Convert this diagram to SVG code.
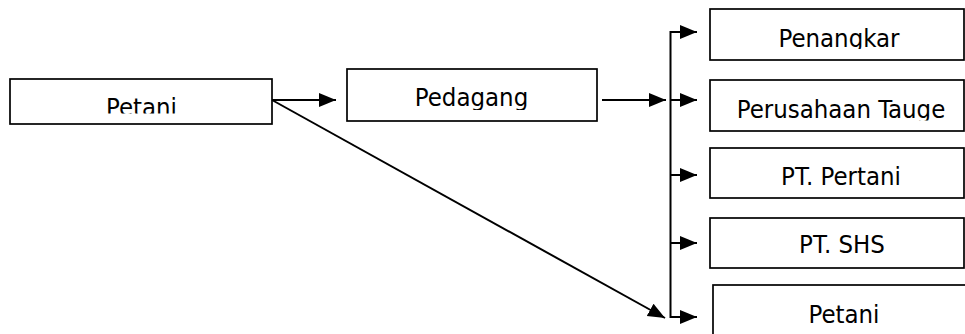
<svg xmlns="http://www.w3.org/2000/svg" width="965" height="334" viewBox="0 0 965 334">
<style>
.box{fill:#fff;stroke:#000;stroke-width:1.7}
.lbl{font-family:"DejaVu Sans Condensed","DejaVu Sans",Verdana,sans-serif;font-stretch:condensed;font-size:25.5px;fill:#000;text-anchor:middle}
.ln{fill:none;stroke:#000;stroke-width:2}
</style>
<defs>
<marker id="ah" markerUnits="userSpaceOnUse" markerWidth="18" markerHeight="16" refX="17" refY="8" orient="auto">
<path d="M0,1 L17,8 L0,15 Z" fill="#000"/>
</marker>
<clipPath id="c1"><rect x="10" y="79" width="262" height="34.5"/></clipPath>
<clipPath id="c2"><rect x="347" y="69" width="250" height="41"/></clipPath>
<clipPath id="c3"><rect x="710" y="9" width="254" height="40"/></clipPath>
<clipPath id="c4"><rect x="710" y="80" width="254" height="40.5"/></clipPath>
</defs>
<g id="petani-src">
<rect class="box" x="10" y="79" width="262" height="45"/>
<text class="lbl" x="141.5" y="115.5" clip-path="url(#c1)">Petani</text>
</g>
<g id="pedagang">
<rect class="box" x="347" y="69" width="250" height="52"/>
<text class="lbl" x="471.5" y="106" clip-path="url(#c2)">Pedagang</text>
</g>
<g id="penangkar">
<rect class="box" x="710" y="9" width="254" height="51"/>
<text class="lbl" x="839" y="47" clip-path="url(#c3)">Penangkar</text>
</g>
<g id="perusahaan">
<rect class="box" x="710" y="80" width="254" height="51"/>
<text class="lbl" x="841" y="118" clip-path="url(#c4)">Perusahaan Tauge</text>
</g>
<g id="pertani">
<rect class="box" x="710" y="148" width="254" height="50"/>
<text class="lbl" x="841" y="185">PT. Pertani</text>
</g>
<g id="shs">
<rect class="box" x="710" y="218" width="254" height="50"/>
<text class="lbl" x="842" y="253">PT. SHS</text>
</g>
<g id="petani-dst">
<rect class="box" x="713" y="285" width="260" height="60"/>
<text class="lbl" x="844" y="323">Petani</text>
</g>
<g id="connectors">
<line class="ln" x1="272" y1="100" x2="336" y2="100" marker-end="url(#ah)"/>
<line class="ln" x1="602" y1="100" x2="666" y2="100" marker-end="url(#ah)"/>
<line class="ln" x1="272" y1="100" x2="665" y2="318" marker-end="url(#ah)"/>
<polyline class="ln" points="697,32 670.5,32 670.5,317 697,317" marker-end="url(#ah)"/>
<line class="ln" x1="670.5" y1="32" x2="697" y2="32" marker-end="url(#ah)"/>
<line class="ln" x1="670.5" y1="100" x2="697" y2="100" marker-end="url(#ah)"/>
<line class="ln" x1="670.5" y1="175" x2="697" y2="175" marker-end="url(#ah)"/>
<line class="ln" x1="670.5" y1="243" x2="697" y2="243" marker-end="url(#ah)"/>
</g>
</svg>
